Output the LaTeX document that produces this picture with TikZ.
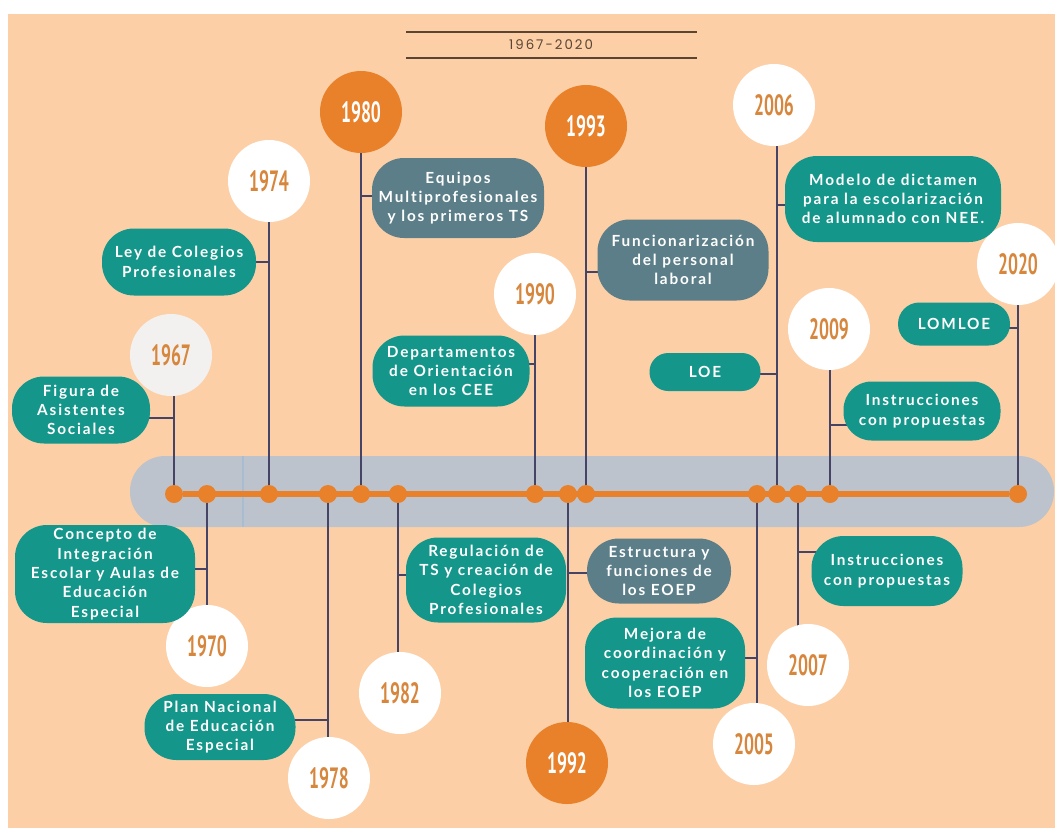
\documentclass[tikz,border=0pt]{standalone}
\usepackage{fontspec}
\usetikzlibrary{backgrounds}
\newfontfamily\lblfont[LetterSpace=12, Ligatures=NoCommon]{Lato}
\newfontfamily\yrfont[FakeStretch=0.6]{PT Sans}
\newfontfamily\ttlfont[LetterSpace=15]{Poppins}
\definecolor{peach}{HTML}{FCCFA6}
\definecolor{tealbox}{HTML}{14968A}
\definecolor{slatebox}{HTML}{5B7E88}
\definecolor{orng}{HTML}{E8812A}
\definecolor{bandc}{HTML}{BDC3CC}
\definecolor{bandline}{HTML}{A8BCD2}
\definecolor{connc}{HTML}{454466}
\definecolor{yrtext}{HTML}{D7873D}
\definecolor{ttlc}{HTML}{5A4535}
\definecolor{circgrey}{HTML}{F3F1EF}
\def\pxu{0.75pt}
\tikzset{
  lbl/.style={fill=tealbox, text=white, rounded corners=24pt, align=center,
    inner sep=0pt, font=\lblfont\bfseries\fontsize{11.5}{14.5}\selectfont},
  lblslate/.style={lbl, fill=slatebox},
  yr/.style={circle, fill=white, minimum size=82*\pxu, inner sep=0pt,
    text=yrtext, font=\yrfont\bfseries\fontsize{22}{22}\selectfont},
  yrorange/.style={yr, fill=orng, text=white},
  evdot/.style={circle, fill=orng, minimum size=18*\pxu, inner sep=0pt},
  conn/.style={draw=connc, line width=1.2pt}
}

\begin{document}
\begin{tikzpicture}[x=\pxu, y=-\pxu]
  \useasboundingbox (0,0) rectangle (1055,828);

  % title
  \draw[ttlc, line width=1pt] (406,32) -- (697,32) (406,58) -- (697,58);
  \node[text=ttlc, font=\ttlfont\fontsize{10}{10}\selectfont] (title) at (551,45) {1967-2020};

  % dots on the time line
  \foreach \yr/\xx in {1967/174, 1970/207, 1974/269, 1978/328, 1980/361, 1982/398,
      1990/535, 1992/568, 1993/586, 2005/757, 2006/777, 2007/798, 2009/830, 2020/1018}
    \node[evdot] (d\yr) at (\xx,494) {};
  \draw[orng, line width=4pt] (d1967) -- (d2020);

  % year circles
  \node[yr, fill=circgrey] (c1967) at (171,355) {1967};
  \foreach \yr/\xx/\yy in {1970/207/646, 1974/269/181, 1978/329/778, 1982/400/693,
      1990/535/294, 2005/754/744, 2006/774/105, 2007/808/665, 2009/829/329, 2020/1018/264}
    \node[yr] (c\yr) at (\xx,\yy) {\yr};
  \foreach \yr/\xx/\yy in {1980/361/112, 1992/567/763, 1993/586/126}
    \node[yrorange] (c\yr) at (\xx,\yy) {\yr};

  % events above
  \node[lbl, minimum width=138*\pxu, minimum height=67*\pxu] (figura) at (81,410) {Figura de\\Asistentes\\Sociales};
  \node[lbl, minimum width=154*\pxu, minimum height=67*\pxu] (ley) at (179,262) {Ley de Colegios\\Profesionales};
  \node[lblslate, minimum width=172*\pxu, minimum height=80*\pxu] (equipos) at (458,198) {Equipos\\Multiprofesionales\\y los primeros TS};
  \node[lbl, minimum width=157*\pxu, minimum height=71*\pxu] (deptos) at (451,371) {Departamentos\\de Orientación\\en los CEE};
  \node[lblslate, minimum width=171*\pxu, minimum height=81*\pxu] (funcion) at (683,260) {Funcionarización\\del personal\\laboral};
  \node[lbl, minimum width=216*\pxu, minimum height=86*\pxu] (modelo) at (893,199) {Modelo de dictamen\\para la escolarización\\de alumnado con NEE.};
  \node[lbl, rounded corners=14pt, minimum width=111*\pxu, minimum height=38*\pxu] (loe) at (705,372) {LOE};
  \node[lbl, rounded corners=16pt, minimum width=112*\pxu, minimum height=43*\pxu] (lomloe) at (954,324) {LOMLOE};
  \node[lbl, rounded corners=21pt, minimum width=157*\pxu, minimum height=59*\pxu] (instr09) at (922,411) {Instrucciones\\con propuestas};

  % events below
  \node[lbl, minimum width=180*\pxu, minimum height=98*\pxu] (concepto) at (105,574) {Concepto de\\Integración\\Escolar y Aulas de\\Educación\\Especial};
  \node[lbl, minimum width=151*\pxu, minimum height=66*\pxu] (plan) at (220,727) {Plan Nacional\\de Educación\\Especial};
  \node[lbl, minimum width=160*\pxu, minimum height=85*\pxu] (regul) at (486,580) {Regulación de\\TS y creación de\\Colegios\\Profesionales};
  \node[lblslate, minimum width=144*\pxu, minimum height=65*\pxu] (estruct) at (659,571) {Estructura y\\funciones de\\los EOEP};
  \node[lbl, minimum width=160*\pxu, minimum height=91*\pxu] (mejora) at (665,663) {Mejora de\\coordinación y\\cooperación en\\los EOEP};
  \node[lbl, minimum width=151*\pxu, minimum height=70*\pxu] (instr07) at (887,571) {Instrucciones\\con propuestas};

  \begin{pgfonlayer}{background}
    \fill[peach] (8,14) rectangle (1055,828);
    \fill[bandc, rounded corners=35*\pxu] (130,456) rectangle (1054,527);
    \draw[bandline, line width=1pt] (243,456) -- (243,527);
    % stems
    \foreach \yr in {1967,1970,1974,1978,1980,1982,1990,1992,1993,2005,2006,2007,2009,2020}
      \draw[conn] (d\yr) -- (d\yr |- c\yr.center);
    % branches
    \draw[conn] ([yshift=-8*\pxu]figura.center) -| (d1967);
    \draw[conn] (ley.center) -| (d1974);
    \draw[conn] ([yshift=2*\pxu]equipos.center) -| (d1980);
    \draw[conn] ([yshift=7*\pxu]deptos.center) -| (d1990);
    \draw[conn] ([yshift=-12*\pxu]funcion.center) -| (d1993);
    \draw[conn] ([yshift=-6*\pxu]modelo.center) -| (d2006);
    \draw[conn] ([yshift=-2*\pxu]loe.center) -| (d2006);
    \draw[conn] ([yshift=-4*\pxu]lomloe.center) -| (d2020);
    \draw[conn] ([yshift=-14*\pxu]instr09.center) -| (d2009);
    \draw[conn] ([yshift=5*\pxu]concepto.center) -| (d1970);
    \draw[conn] ([yshift=7*\pxu]plan.center) -| (d1978);
    \draw[conn] ([yshift=5*\pxu]regul.center) -| (d1982);
    \draw[conn] ([yshift=-2*\pxu]estruct.center) -| (d1992);
    \draw[conn] ([yshift=5*\pxu]mejora.center) -| (d2005);
    \draw[conn] ([yshift=19*\pxu]instr07.center) -| (d2007);
  \end{pgfonlayer}
\end{tikzpicture}
\end{document}
